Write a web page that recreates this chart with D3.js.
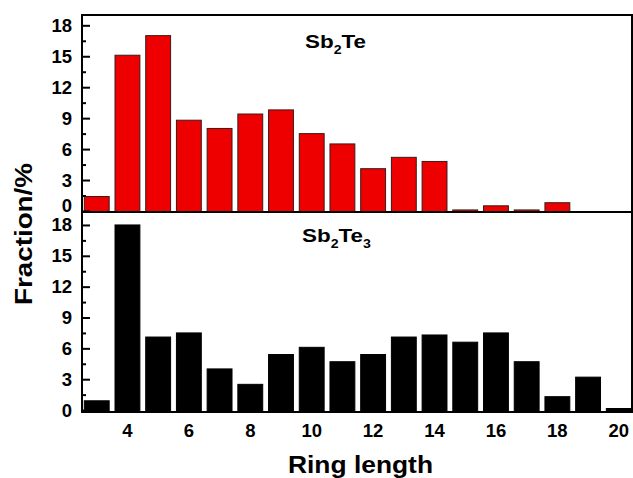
<!DOCTYPE html>
<html>
<head>
<meta charset="utf-8">
<script src="https://cdn.jsdelivr.net/npm/d3@7"></script>
<style>
  html, body { margin: 0; padding: 0; background: #fff; }
  text { font-family: "Liberation Sans", Arial, sans-serif; font-weight: bold; fill: #000; }
</style>
</head>
<body>
<svg id="chart" width="633" height="478"></svg>
<script>
// Data
const ringLengths = [3, 4, 5, 6, 7, 8, 9, 10, 11, 12, 13, 14, 15, 16, 17, 18, 19, 20];
const sb2teValues = [1.4, 15.1, 17.0, 8.8, 8.0, 9.4, 9.8, 7.5, 6.5, 4.1, 5.2, 4.8, 0.1, 0.5, 0.1, 0.8, 0, 0];
const sb2te3Values = [0.9, 18.0, 7.1, 7.5, 4.0, 2.5, 5.4, 6.1, 4.7, 5.4, 7.1, 7.3, 6.6, 7.5, 4.7, 1.3, 3.2, 0.15];
const yTicks = [0, 3, 6, 9, 12, 15, 18];
const yMinorTicks = [1.5, 4.5, 7.5, 10.5, 13.5, 16.5];
const xTicks = [4, 6, 8, 10, 12, 14, 16, 18, 20];

const svg = d3.select("#chart");
const left = 82, right = 632;
const x = d3.scaleLinear().domain([2.52, 20.43]).range([left, right]);
const barHalf = 0.405;

const panels = [
  { values: sb2teValues, color: "#ee0000", stroke: "#3a1a1a", y: d3.scaleLinear().domain([-0.1, 19.0]).range([212, 15]), label: ["Sb", "2", "Te", null], lx: 305, ly: 48, zeroShift: -5.5 },
  { values: sb2te3Values, color: "#000000", stroke: "#000", y: d3.scaleLinear().domain([-0.19, 19.26]).range([412, 212]), label: ["Sb", "2", "Te", "3"], lx: 302, ly: 242, zeroShift: 0 }
];

const data = ringLengths.map((k, i) => ({ k, i }));

panels.forEach((p, pi) => {
  const [y0, y1] = p.y.range();
  const g = svg.append("g");
  const clipId = "clip" + pi;
  svg.append("clipPath").attr("id", clipId).append("rect")
    .attr("x", left).attr("y", y1).attr("width", right - left).attr("height", y0 - y1);

  g.append("g").attr("clip-path", `url(#${clipId})`)
    .selectAll("rect").data(data.filter(d => p.values[d.i] > 0)).join("rect")
    .attr("x", d => x(d.k - barHalf))
    .attr("width", d => x(d.k + barHalf) - x(d.k - barHalf))
    .attr("y", d => p.y(p.values[d.i]))
    .attr("height", d => p.y(0) - p.y(p.values[d.i]) + 2)
    .attr("fill", p.color)
    .attr("stroke", p.stroke)
    .attr("stroke-width", 1);

  // y axis with inward ticks
  const ax = d3.axisRight(p.y).tickValues(yTicks).tickSize(8).tickFormat("");
  const axG = g.append("g").attr("transform", `translate(${left},0)`).call(ax);
  axG.select(".domain").remove();
  axG.selectAll("line").attr("stroke", "#000").attr("stroke-width", 2);
  const axm = d3.axisRight(p.y).tickValues(yMinorTicks).tickSize(4).tickFormat("");
  const axmG = g.append("g").attr("transform", `translate(${left},0)`).call(axm);
  axmG.select(".domain").remove();
  axmG.selectAll("line").attr("stroke", "#000").attr("stroke-width", 2);

  // tick labels
  g.selectAll("text.ylab").data(yTicks).join("text")
    .attr("class", "ylab")
    .attr("x", 72)
    .attr("y", d => p.y(d) + 6.5 + (d === 0 ? p.zeroShift : 0))
    .attr("text-anchor", "end")
    .attr("font-size", 18.5)
    .text(d => d);

  // frame
  g.append("rect").attr("x", left).attr("y", y1).attr("width", right - left).attr("height", y0 - y1)
    .attr("fill", "none").attr("stroke", "#000").attr("stroke-width", 2);

  // label
  const t = g.append("text").attr("x", p.lx).attr("y", p.ly).attr("font-size", 19)
    .attr("transform", `translate(${p.lx},0) scale(1.18,1) translate(${-p.lx},0)`);
  t.append("tspan").text(p.label[0]);
  t.append("tspan").attr("font-size", 12).attr("dy", 6).text(p.label[1]);
  t.append("tspan").attr("dy", -6).text(p.label[2]);
  if (p.label[3]) t.append("tspan").attr("font-size", 12).attr("dy", 6).text(p.label[3]);
});

// x tick labels
svg.selectAll("text.xlab").data(xTicks).join("text")
  .attr("class", "xlab")
  .attr("x", d => x(d))
  .attr("y", 437)
  .attr("text-anchor", "middle")
  .attr("font-size", 18.5)
  .text(d => d);

// axis titles
svg.append("text").attr("x", 288).attr("y", 473)
  .attr("font-size", 23.5).attr("textLength", 145).attr("lengthAdjust", "spacingAndGlyphs")
  .text("Ring length");
svg.append("text")
  .attr("transform", "translate(31.5,305) rotate(-90)")
  .attr("x", 0).attr("y", 0)
  .attr("font-size", 23.5).attr("textLength", 142).attr("lengthAdjust", "spacingAndGlyphs")
  .text("Fraction/%");
</script>
</body>
</html>
